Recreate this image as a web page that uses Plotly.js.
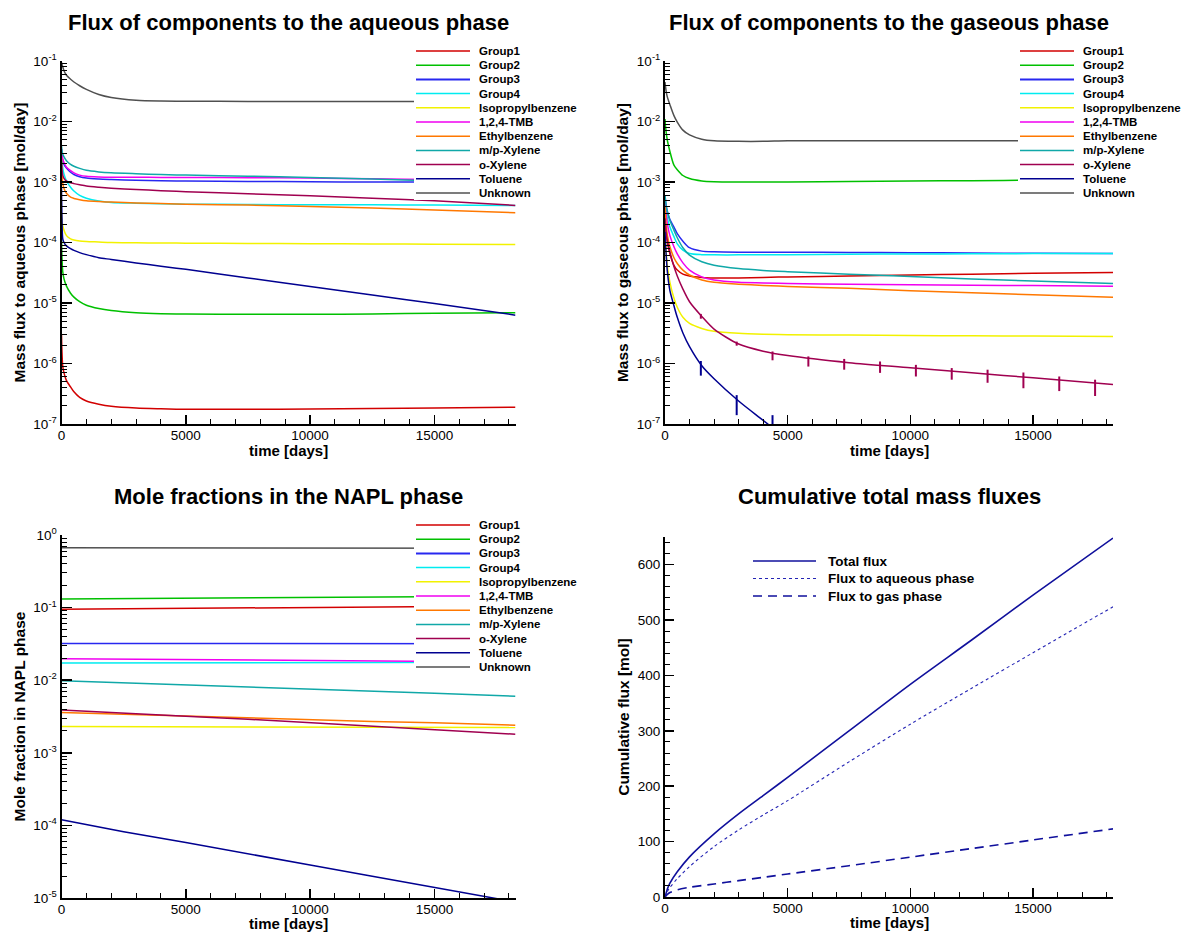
<!DOCTYPE html>
<html>
<head>
<meta charset="utf-8">
<script src="https://cdn.plot.ly/plotly-3.0.1.min.js"></script>
<style>
  html, body { margin: 0; padding: 0; background: #fff; }
  #chart { width: 1183px; height: 932px; }
</style>
</head>
<body>
<div id="chart"></div>
<script>
// ---------- components and colours ----------
const COMPONENTS = ['Group1', 'Group2', 'Group3', 'Group4', 'Isopropylbenzene', '1,2,4-TMB',
                    'Ethylbenzene', 'm/p-Xylene', 'o-Xylene', 'Toluene', 'Unknown'];
const COLORS = ['#d20000', '#00c000', '#2828f0', '#00ecf0', '#f2f200', '#f000f0',
                '#ff7800', '#10a8a8', '#a00050', '#000090', '#505050'];

// ---------- mass flux to aqueous phase [mol/day] ----------
const T_FLUX = [0, 20, 50, 100, 200, 365, 500, 730, 1000, 1500, 2000, 3000, 4000, 5000, 7500, 10000, 12500, 15000, 18262];

const aqGroup1  = [3e-6, 1.5e-6, 9e-7, 7e-7, 5.2e-7, 4.1e-7, 3.4e-7, 2.75e-7, 2.4e-7, 2.12e-7, 1.96e-7, 1.83e-7, 1.78e-7, 1.75e-7, 1.75e-7, 1.77e-7, 1.8e-7, 1.84e-7, 1.9e-7];
const aqGroup2  = [1.2e-4, 5.5e-5, 3.3e-5, 2.5e-5, 1.9e-5, 1.45e-5, 1.25e-5, 1.05e-5, 9.2e-6, 8.1e-6, 7.5e-6, 6.9e-6, 6.65e-6, 6.55e-6, 6.5e-6, 6.5e-6, 6.6e-6, 6.75e-6, 6.9e-6];
const aqGroup3  = [3.5e-3, 2.7e-3, 2.3e-3, 1.95e-3, 1.7e-3, 1.45e-3, 1.33e-3, 1.22e-3, 1.16e-3, 1.12e-3, 1.1e-3, 1.07e-3, 1.05e-3, 1.04e-3, 1.02e-3, 1.01e-3, 1.0e-3, 1.0e-3, 1.0e-3];
const aqGroup4  = [3.0e-3, 2.2e-3, 1.7e-3, 1.35e-3, 1.05e-3, 8.2e-4, 7.1e-4, 6.0e-4, 5.4e-4, 4.85e-4, 4.6e-4, 4.45e-4, 4.35e-4, 4.3e-4, 4.25e-4, 4.2e-4, 4.2e-4, 4.15e-4, 4.1e-4];
const aqIsoprop = [3e-4, 2.3e-4, 1.9e-4, 1.6e-4, 1.3e-4, 1.15e-4, 1.1e-4, 1.06e-4, 1.04e-4, 1.02e-4, 1.0e-4, 9.9e-5, 9.8e-5, 9.75e-5, 9.65e-5, 9.55e-5, 9.45e-5, 9.4e-5, 9.3e-5];
const aqTMB     = [3.5e-3, 2.8e-3, 2.4e-3, 2.1e-3, 1.75e-3, 1.55e-3, 1.42e-3, 1.3e-3, 1.24e-3, 1.21e-3, 1.2e-3, 1.2e-3, 1.19e-3, 1.19e-3, 1.18e-3, 1.16e-3, 1.13e-3, 1.1e-3, 1.07e-3];
const aqEthyl   = [2.5e-3, 1.4e-3, 9.5e-4, 7.8e-4, 6.5e-4, 5.6e-4, 5.35e-4, 5.1e-4, 4.9e-4, 4.75e-4, 4.65e-4, 4.5e-4, 4.4e-4, 4.3e-4, 4.15e-4, 3.95e-4, 3.7e-4, 3.45e-4, 3.1e-4];
const aqMPXyl   = [4e-3, 3.3e-3, 2.9e-3, 2.6e-3, 2.25e-3, 1.95e-3, 1.82e-3, 1.68e-3, 1.56e-3, 1.47e-3, 1.42e-3, 1.37e-3, 1.33e-3, 1.3e-3, 1.25e-3, 1.19e-3, 1.12e-3, 1.05e-3, 0.97e-3];
const aqOXyl    = [2.2e-3, 1.6e-3, 1.3e-3, 1.15e-3, 1.03e-3, 9.7e-4, 9.4e-4, 9.0e-4, 8.6e-4, 8.2e-4, 7.9e-4, 7.5e-4, 7.2e-4, 6.9e-4, 6.4e-4, 5.9e-4, 5.4e-4, 4.9e-4, 4.1e-4];
const aqToluene = [8e-4, 2.5e-4, 1.15e-4, 1.0e-4, 8.8e-5, 7.9e-5, 7.4e-5, 6.8e-5, 6.3e-5, 5.6e-5, 5.25e-5, 4.6e-5, 4.05e-5, 3.6e-5, 2.6e-5, 1.88e-5, 1.35e-5, 9.8e-6, 6.3e-6];
const aqUnknown = [0.095, 0.088, 0.08, 0.069, 0.058, 0.05, 0.045, 0.039, 0.034, 0.028, 0.025, 0.0225, 0.0218, 0.0216, 0.0215, 0.0215, 0.0214, 0.0214, 0.0214];

// ---------- mass flux to gaseous phase [mol/day] ----------
const gasGroup1  = [2.5e-4, 1.9e-4, 1.4e-4, 1e-4, 6.5e-5, 4.2e-5, 3.5e-5, 3.0e-5, 2.8e-5, 2.65e-5, 2.6e-5, 2.6e-5, 2.65e-5, 2.7e-5, 2.8e-5, 2.9e-5, 3.0e-5, 3.1e-5, 3.2e-5];
const gasGroup2  = [0.011, 0.0085, 0.0065, 0.0048, 0.0032, 0.0019, 0.0016, 0.00128, 0.00114, 0.00104, 0.00101, 0.001, 0.001, 0.001, 0.00102, 0.00104, 0.00105, 0.00107, 0.00109];
const gasGroup3  = [6e-4, 5e-4, 4e-4, 3.2e-4, 2.4e-4, 1.8e-4, 1.4e-4, 1.05e-4, 8.2e-5, 7.2e-5, 7.0e-5, 6.9e-5, 6.9e-5, 6.9e-5, 6.85e-5, 6.8e-5, 6.7e-5, 6.65e-5, 6.6e-5];
const gasGroup4  = [5e-4, 4e-4, 3.2e-4, 2.5e-4, 1.8e-4, 1.25e-4, 9.5e-5, 7.5e-5, 6.6e-5, 6.3e-5, 6.25e-5, 6.25e-5, 6.3e-5, 6.3e-5, 6.4e-5, 6.45e-5, 6.5e-5, 6.55e-5, 6.6e-5];
const gasIsoprop = [1.5e-4, 1e-4, 6.5e-5, 4e-5, 2.2e-5, 1.2e-5, 8.5e-6, 5.8e-6, 4.6e-6, 3.8e-6, 3.4e-6, 3.15e-6, 3.05e-6, 3.0e-6, 2.95e-6, 2.9e-6, 2.87e-6, 2.84e-6, 2.8e-6];
const gasTMB     = [5e-4, 3.8e-4, 2.8e-4, 2e-4, 1.3e-4, 8.5e-5, 6.5e-5, 4.6e-5, 3.5e-5, 2.7e-5, 2.4e-5, 2.2e-5, 2.15e-5, 2.1e-5, 2.05e-5, 2.0e-5, 1.97e-5, 1.94e-5, 1.9e-5];
const gasEthyl   = [4e-4, 2.8e-4, 1.9e-4, 1.3e-4, 8.5e-5, 5.6e-5, 4.5e-5, 3.5e-5, 2.9e-5, 2.4e-5, 2.2e-5, 2.05e-5, 1.95e-5, 1.88e-5, 1.75e-5, 1.6e-5, 1.48e-5, 1.37e-5, 1.25e-5];
const gasMPXyl   = [6e-4, 5e-4, 4e-4, 3.2e-4, 2.3e-4, 1.6e-4, 1.2e-4, 8.2e-5, 6.2e-5, 4.8e-5, 4.2e-5, 3.7e-5, 3.45e-5, 3.3e-5, 3.0e-5, 2.75e-5, 2.5e-5, 2.3e-5, 2.1e-5];
const gasOXyl    = [2.5e-4, 1.9e-4, 1.4e-4, 1.05e-4, 7e-5, 4e-5, 2.8e-5, 1.7e-5, 1.05e-5, 6e-6, 3.7e-6, 2.1e-6, 1.6e-6, 1.35e-6, 1.03e-6, 8.5e-7, 7.0e-7, 5.8e-7, 4.5e-7];
const gasToluene = [1.5e-4, 1e-4, 6e-5, 3.2e-5, 1.6e-5, 9e-6, 5.8e-6, 3.2e-6, 1.9e-6, 9.2e-7, 5.6e-7, 2.4e-7, 1.15e-7, 5.5e-8, 8e-9, 1.2e-9, 2e-10, 3e-11, 3e-12];
const gasUnknown = [0.045, 0.038, 0.031, 0.025, 0.019, 0.0125, 0.0098, 0.0072, 0.006, 0.0051, 0.0048, 0.0047, 0.0047, 0.0048, 0.0048, 0.0048, 0.0048, 0.0048, 0.0048];

// glitches of the solver output (short vertical excursions every four years)
const SPIKE_T_OXYL   = [1461, 2922, 4383, 5844, 7305, 8766, 10227, 11688, 13149, 14610, 16071, 17532];
const SPIKE_HI_OXYL  = [6.6e-6, 2.3e-6, 1.58e-6, 1.31e-6, 1.19e-6, 1.08e-6, 9.5e-7, 8.4e-7, 7.9e-7, 7.1e-7, 6.1e-7, 5.4e-7];
const SPIKE_LO_OXYL  = [5.5e-6, 1.97e-6, 1.13e-6, 8.9e-7, 7.9e-7, 7.0e-7, 6.1e-7, 5.4e-7, 4.8e-7, 3.9e-7, 3.5e-7, 2.9e-7];
const SPIKE_T_TOL    = [1461, 2922, 4383];
const SPIKE_HI_TOL   = [1.1e-6, 3e-7, 1.4e-7];
const SPIKE_LO_TOL   = [6.3e-7, 1.4e-7, 5e-8];

// ---------- mole fractions in the NAPL phase ----------
const T_NAPL = [0, 2500, 5000, 7500, 10000, 12500, 15000, 18262];
const xGroup1  = [0.095, 0.096, 0.097, 0.099, 0.100, 0.102, 0.103, 0.105];
const xGroup2  = [0.131, 0.133, 0.135, 0.137, 0.139, 0.140, 0.142, 0.144];
const xGroup3  = [0.032, 0.032, 0.032, 0.0319, 0.0319, 0.0318, 0.0318, 0.0318];
const xGroup4  = [0.0172, 0.0173, 0.0173, 0.0174, 0.0175, 0.0175, 0.0176, 0.0177];
const xIsoprop = [0.0023, 0.00229, 0.00228, 0.00227, 0.00226, 0.00225, 0.00224, 0.00223];
const xTMB     = [0.0198, 0.0195, 0.0192, 0.0189, 0.0186, 0.0183, 0.0181, 0.0178];
const xEthyl   = [0.0036, 0.0034, 0.0032, 0.0030, 0.0029, 0.0027, 0.0026, 0.0024];
const xMPXyl   = [0.0098, 0.0092, 0.0086, 0.0080, 0.0075, 0.0070, 0.0066, 0.0060];
const xOXyl    = [0.0039, 0.0035, 0.0032, 0.0029, 0.0026, 0.0023, 0.0021, 0.0018];
const xToluene = [1.2e-4, 8.2e-5, 5.8e-5, 4.1e-5, 2.85e-5, 2.0e-5, 1.4e-5, 8.8e-6];
const xUnknown = [0.67, 0.668, 0.666, 0.664, 0.662, 0.66, 0.658, 0.655];

// ---------- cumulative total mass fluxes [mol] ----------
const T_CUM = [0, 50, 100, 200, 500, 1000, 2000, 3000, 4000, 5000, 7500, 10000, 12500, 15000, 18262];
const cumTotal   = [0, 7.5, 14.8, 25, 45.5, 72.5, 114, 150, 183, 216, 300, 384, 464, 545, 648];
const cumAqueous = [0, 5, 10, 17, 33, 55, 91, 121, 148, 174, 244, 312, 377, 441, 524];
const cumGas     = [0, 2.5, 4.8, 8, 13, 17.5, 23.5, 29.5, 35.5, 41.5, 56.5, 72, 87.5, 103, 123];
const CUM_NAMES  = ['Total flux', 'Flux to aqueous phase', 'Flux to gas phase'];

// ---------- page geometry ----------
const W = 1183, H = 932;
const FONT = 'Arial, "Liberation Sans", Helvetica, sans-serif';
const fx = p => p / W;
const fy = p => 1 - p / H;

const aqSeries   = [aqGroup1, aqGroup2, aqGroup3, aqGroup4, aqIsoprop, aqTMB, aqEthyl, aqMPXyl, aqOXyl, aqToluene, aqUnknown];
const gasSeries  = [gasGroup1, gasGroup2, gasGroup3, gasGroup4, gasIsoprop, gasTMB, gasEthyl, gasMPXyl, gasOXyl, gasToluene, gasUnknown];
const naplSeries = [xGroup1, xGroup2, xGroup3, xGroup4, xIsoprop, xTMB, xEthyl, xMPXyl, xOXyl, xToluene, xUnknown];

const data = [];
function addComponents(t, series, xa, ya, shape) {
  series.forEach((ys, i) => data.push({
    type: 'scatter', mode: 'lines', x: t, y: ys, xaxis: xa, yaxis: ya,
    name: COMPONENTS[i], showlegend: false,
    line: { color: COLORS[i], width: 1.5, shape, smoothing: 0.8 }
  }));
}
addComponents(T_FLUX, aqSeries, 'x', 'y', 'spline');
addComponents(T_FLUX, gasSeries, 'x2', 'y2', 'spline');
addComponents(T_NAPL, naplSeries, 'x3', 'y3', 'linear');

function addSpikes(ts, hi, lo, color) {
  const x = [], y = [];
  ts.forEach((t, i) => { x.push(t, t, null); y.push(hi[i], lo[i], null); });
  data.push({ type: 'scatter', mode: 'lines', x, y, xaxis: 'x2', yaxis: 'y2',
              showlegend: false, line: { color, width: 2 } });
}
addSpikes(SPIKE_T_OXYL, SPIKE_HI_OXYL, SPIKE_LO_OXYL, COLORS[8]);
addSpikes(SPIKE_T_TOL, SPIKE_HI_TOL, SPIKE_LO_TOL, COLORS[9]);

const CUM_STYLES = [
  { color: '#10109c', width: 1.6, dash: 'solid' },
  { color: '#2424b4', width: 1.1, dash: 'dot' },
  { color: '#10109c', width: 1.6, dash: '9px,6px' }
];
[cumTotal, cumAqueous, cumGas].forEach((ys, i) => data.push({
  type: 'scatter', mode: 'lines', x: T_CUM, y: ys, xaxis: 'x4', yaxis: 'y4',
  name: CUM_NAMES[i], showlegend: false,
  line: Object.assign({ shape: 'spline', smoothing: 0.8 }, CUM_STYLES[i])
}));

// ---------- axes ----------
const axisBase = {
  showline: true, linecolor: '#000', linewidth: 2, mirror: false,
  ticks: 'inside', ticklen: 9, tickwidth: 1.5, tickcolor: '#000',
  showgrid: false, zeroline: false, fixedrange: true,
  tickfont: { family: FONT, size: 13.5, color: '#000' }
};
const titleFont = { family: FONT, size: 15.5, color: '#000', weight: 'bold' };
const timeTitleFont = { family: FONT, size: 15, color: '#000', weight: 'bold' };

function timeAxis(domain, anchor) {
  return Object.assign({}, axisBase, {
    domain, anchor, range: [0, 18262], tickmode: 'linear', tick0: 0, dtick: 5000, tickformat: 'd',
    ticklabelstandoff: -2,
    minor: { tickmode: 'linear', tick0: 0, dtick: 1000, ticks: 'inside', ticklen: 5, tickwidth: 1, tickcolor: '#000', showgrid: false }
  });
}
function logAxis(domain, anchor, lo, hi, title) {
  const vals = [], text = [], minor = [];
  for (let p = lo; p <= hi; p++) {
    vals.push(Number('1e' + p));
    text.push('10<sup>' + p + '</sup>');
    if (p < hi) for (let d = 2; d <= 9; d++) minor.push(d * Number('1e' + p));
  }
  return Object.assign({}, axisBase, {
    domain, anchor, type: 'log', range: [lo, hi],
    tickmode: 'array', tickvals: vals, ticktext: text, ticklen: 10,
    minor: { tickmode: 'array', tickvals: minor, ticks: 'inside', ticklen: 5, tickwidth: 1, tickcolor: '#000', showgrid: false },
    title: { text: title, font: titleFont, standoff: 4 }
  });
}

const leftX  = [fx(61.5), fx(515.5)];
const rightX = [fx(665), fx(1113)];
const topY   = [fy(424), fy(61)];
const botLY  = [fy(898), fy(535)];
const botRY  = [fy(897), fy(537)];

const layout = {
  width: W, height: H,
  margin: { l: 0, r: 0, t: 0, b: 0 },
  paper_bgcolor: '#fff', plot_bgcolor: '#fff',
  showlegend: false,
  font: { family: FONT, color: '#000' },
  xaxis:  timeAxis(leftX, 'y'),
  yaxis:  logAxis(topY, 'x', -7, -1, 'Mass flux to aqueous phase [mol/day]'),
  xaxis2: timeAxis(rightX, 'y2'),
  yaxis2: logAxis(topY, 'x2', -7, -1, 'Mass flux to gaseous phase [mol/day]'),
  xaxis3: timeAxis(leftX, 'y3'),
  yaxis3: logAxis(botLY, 'x3', -5, 0, 'Mole fraction in NAPL phase'),
  xaxis4: timeAxis(rightX, 'y4'),
  yaxis4: Object.assign({}, axisBase, {
    domain: botRY, anchor: 'x4', range: [0, 650], tickmode: 'linear', tick0: 0, dtick: 100,
    minor: { tickmode: 'linear', tick0: 0, dtick: 20, ticks: 'inside', ticklen: 5, tickwidth: 1, tickcolor: '#000', showgrid: false },
    title: { text: 'Cumulative flux [mol]', font: titleFont, standoff: 4 }
  }),
  shapes: [],
  annotations: []
};

// ---------- panel titles and time-axis titles ----------
const PANEL_TITLES = [
  ['Flux of components to the aqueous phase', 288.5, 22],
  ['Flux of components to the gaseous phase', 889, 22],
  ['Mole fractions in the NAPL phase', 288.5, 497],
  ['Cumulative total mass fluxes', 889, 497]
];
PANEL_TITLES.forEach(([text, x, y]) => layout.annotations.push({
  text, xref: 'paper', yref: 'paper', x: fx(x), y: fy(y),
  xanchor: 'center', yanchor: 'middle', showarrow: false,
  font: { family: FONT, size: 22, color: '#000', weight: 'bold' }
}));
[[288.5, 450], [889, 450], [288.5, 923], [889, 922]].forEach(([x, y]) => layout.annotations.push({
  text: 'time [days]', xref: 'paper', yref: 'paper', x: fx(x), y: fy(y),
  xanchor: 'center', yanchor: 'middle', showarrow: false, font: timeTitleFont
}));

// ---------- component legends (opaque box over the curves) ----------
function componentLegend(boxL, boxT, boxR, boxB, lineX0, lineX1, textX, rowY0, rowStep) {
  layout.shapes.push({
    type: 'rect', xref: 'paper', yref: 'paper', layer: 'above',
    x0: fx(boxL), x1: fx(boxR), y0: fy(boxB), y1: fy(boxT),
    fillcolor: '#fff', line: { width: 0 }
  });
  COMPONENTS.forEach((name, i) => {
    const y = rowY0 + i * rowStep;
    layout.shapes.push({
      type: 'line', xref: 'paper', yref: 'paper', layer: 'above',
      x0: fx(lineX0), x1: fx(lineX1), y0: fy(y), y1: fy(y),
      line: { color: COLORS[i], width: i === 2 ? 2 : 1.5 }
    });
    layout.annotations.push({
      text: name, xref: 'paper', yref: 'paper', x: fx(textX), y: fy(y),
      xanchor: 'left', yanchor: 'middle', showarrow: false,
      font: { family: FONT, size: 11.5, color: '#000', weight: 'bold' }
    });
  });
}
componentLegend(414, 43, 605, 200, 416, 470, 477, 51, 14.2);
componentLegend(1018, 43, 1183, 200, 1020, 1074, 1081, 51, 14.2);
componentLegend(414, 517, 605, 676, 416, 470, 477, 525, 14.2);

// ---------- cumulative legend ----------
CUM_NAMES.forEach((name, i) => {
  const y = 561 + i * 17.5;
  layout.shapes.push({
    type: 'line', xref: 'paper', yref: 'paper', layer: 'above',
    x0: fx(753), x1: fx(816), y0: fy(y), y1: fy(y),
    line: CUM_STYLES[i]
  });
  layout.annotations.push({
    text: name, xref: 'paper', yref: 'paper', x: fx(826), y: fy(y),
    xanchor: 'left', yanchor: 'middle', showarrow: false,
    font: { family: FONT, size: 13.5, color: '#000', weight: 'bold' }
  });
});

Plotly.newPlot('chart', data, layout, { staticPlot: true, displayModeBar: false });
</script>
</body>
</html>
